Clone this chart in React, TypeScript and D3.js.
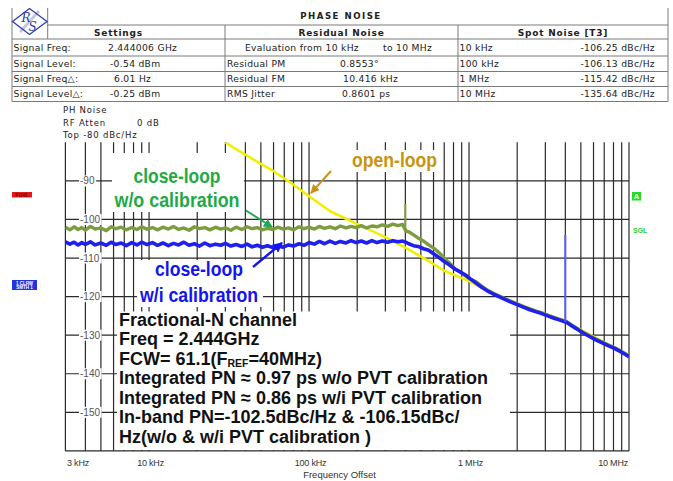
import React from 'react';
import * as d3 from 'd3';

// ---- trace data (offset frequency in Hz, phase noise in dBc/Hz) ----
const freqs = [
  3000, 3200, 3400, 3600, 3800, 4000, 4300, 4600, 5000, 5400, 5800, 6200, 6700, 7200, 7800, 8400, 9000, 9700,
  10500, 11300, 12200, 13200, 14200, 15300, 16500, 17800, 19200, 20700, 22300, 24000, 26000, 28000,
  30000, 32500, 35000, 38000, 41000, 44000, 47500, 51000, 55000, 59500, 64000, 69000, 74500, 80000, 86500, 93000,
  100000, 108000, 116000, 125000, 135000, 146000, 157000, 170000, 183000, 197000, 212000, 229000, 247000, 266000, 287000, 310000, 334000, 360000, 385000,
  396000, 404000, 420000, 450000, 480000, 520000, 560000, 600000, 650000, 700000, 760000, 820000, 880000, 950000, 1020000,
  1100000, 1200000, 1300000, 1400000, 1500000, 1650000, 1800000, 2000000, 2200000, 2400000, 2600000, 2850000, 3100000, 3400000, 3700000, 3960000,
  4040000, 4400000, 4800000, 5200000, 5700000, 6200000, 6800000, 7400000, 8100000, 8800000, 9500000, 10000000,
];

// close-loop w/o calibration (olive trace)
const greenVals = [
  -102.0, -102.7, -101.9, -102.6, -102.1, -102.8, -101.8, -102.5, -102.2, -102.9, -101.9, -102.4, -102.0, -102.7, -102.1, -102.6, -101.9, -102.5,
  -102.1, -102.7, -102.0, -102.5, -101.8, -102.6, -102.2, -102.8, -101.9, -102.4, -102.1, -102.7, -102.0, -102.5,
  -102.2, -102.8, -102.0, -102.6, -101.9, -102.4, -102.1, -102.7, -102.3, -102.6, -102.0, -102.5, -102.2, -102.7, -101.9, -102.4,
  -102.0, -102.5, -101.8, -102.3, -101.9, -102.4, -101.7, -102.2, -101.8, -102.1, -101.6, -102.2, -101.7, -101.9, -101.4, -101.8, -101.2, -101.6, -101.3,
  -102.4, -103.0, -103.2, -104.0, -104.8, -105.6, -106.6, -107.4, -108.6, -110.0, -111.4, -112.8, -113.6, -114.6, -115.5,
  -116.1, -117.3, -118.3, -119.0, -119.6, -120.4, -121.1, -121.9, -122.6, -123.2, -123.7, -124.2, -124.8, -125.4, -125.9, -126.3,
  -126.4, -127.4, -128.4, -129.3, -130.2, -131.0, -131.8, -132.5, -133.2, -134.0, -134.8, -135.4,
];

// close-loop w/i calibration (blue trace)
const blueVals = [
  -105.8, -106.4, -105.9, -106.6, -106.0, -106.5, -105.8, -106.6, -106.1, -106.7, -105.9, -106.5, -106.1, -106.8, -106.0, -106.6, -105.9, -106.5,
  -106.0, -106.7, -106.1, -106.8, -106.2, -106.6, -105.9, -106.7, -106.3, -106.9, -106.1, -106.8, -106.4, -106.7,
  -106.2, -106.9, -106.5, -107.0, -106.4, -107.1, -106.7, -107.2, -106.8, -107.3, -106.9, -107.2, -106.6, -106.9, -106.3, -106.7,
  -106.0, -106.4, -105.7, -106.3, -105.6, -106.2, -105.7, -106.1, -105.5, -106.0, -105.6, -106.1, -105.5, -106.0, -105.6, -105.9, -105.5, -105.8, -105.6,
  -105.8, -105.9, -106.3, -106.8, -107.0, -107.6, -108.0, -108.9, -109.9, -110.9, -111.9, -112.9, -113.6, -114.4, -115.4,
  -116.4, -117.6, -118.5, -119.2, -119.8, -120.6, -121.3, -122.1, -122.8, -123.4, -123.9, -124.4, -125.0, -125.6, -126.1, -126.5,
  -126.6, -127.6, -128.6, -129.5, -130.4, -131.2, -132.0, -132.7, -133.4, -134.2, -135.0, -135.6,
];

// open-loop (yellow trace)
const yellowFreqs = [30000, 35000, 40000, 50000, 60000, 80000, 100000, 135000, 200000, 300000, 400000, 550000, 700000, 1000000, 1500000, 2000000, 3000000, 4000000, 6000000, 8000000, 10000000];
const yellowVals = [-80, -81.8, -83.2, -85.6, -87.5, -91, -94, -97.8, -101.2, -104.6, -107.3, -110.6, -113.3, -116, -119.8, -121.9, -124.6, -126.5, -130.4, -133.2, -135.3];

// spurs
const spikeFreqs = [400000, 4000000];
const spikeTops = [-96, -104];
const spikeBases = [-103, -126.5];

// axes
const yTicks = [-90, -100, -110, -120, -130, -140, -150];
const xTickValues = [3000, 10000, 100000, 1000000, 10000000];
const xTickLabels = ['3 kHz', '10 kHz', '100 kHz', '1 MHz', '10 MHz'];

// header table
const settingsLabels = ['Signal Freq:', 'Signal Level:', 'Signal Freq\u25B3:', 'Signal Level\u25B3:'];
const settingsValues = ['2.444006 GHz', '-0.54 dBm', '6.01 Hz', '-0.25 dBm'];
const residualLabels = ['', 'Residual PM', 'Residual FM', 'RMS Jitter'];
const residualValues = ['', '0.8553\u00B0', '10.416 kHz', '0.8601 ps'];
const spotFreqs = ['10 kHz', '100 kHz', '1 MHz', '10 MHz'];
const spotValues = ['-106.25 dBc/Hz', '-106.13 dBc/Hz', '-115.42 dBc/Hz', '-135.64 dBc/Hz'];

const infoLines = [
  'Fractional-N channel',
  'Freq = 2.444GHz',
  'FCW',
  'Integrated PN \u2248 0.97 ps w/o PVT calibration',
  'Integrated PN \u2248 0.86 ps w/i PVT calibration',
  'In-band PN=-102.5dBc/Hz & -106.15dBc/',
  'Hz(w/o & w/i PVT calibration )',
];

const GREEN = '#7d9b3f';
const BLUE = '#2020ee';
const YELLOW = '#f2ee00';
const GRID = '#2a2a2a';
const TBL = '#7a7a7a';

export default function App() {
  const plotL = 65.4, plotR = 629, plotT = 142.3, plotB = 450.9;
  const x = d3.scaleLog().domain([3000, 1e7]).range([plotL, plotR]);
  const y = d3.scaleLinear().domain([-160, -80]).range([plotB, plotT]);
  const gridX = x.ticks().filter((v) => v > 3000);
  const line = d3.line<[number, number]>().x((d) => x(d[0])).y((d) => y(d[1]));
  const green: [number, number][] = freqs.map((f, i) => [f, greenVals[i]]);
  const blue: [number, number][] = freqs.map((f, i) => [f, blueVals[i]]);
  const yellow: [number, number][] = yellowFreqs.map((f, i) => [f, yellowVals[i]]);

  const rows = [39, 56, 71.5, 86.5, 101.5];
  const tf = 'DejaVu Sans, Verdana, sans-serif';
  const af = 'Liberation Sans, Arial, sans-serif';
  const rowBase = (i: number) => (rows[i] + rows[i + 1]) / 2 + 3.3;
  const infoBase = [325.5, 345, 364.5, 384, 403.5, 423, 442.5];

  return (
    <svg width={673} height={481} style={{ position: 'absolute', left: 0, top: 0, background: '#fff' }}>
      <defs>
        <clipPath id="plotclip">
          <rect x={plotL} y={plotT} width={plotR - plotL} height={plotB - plotT} />
        </clipPath>
        <marker id="ah-g" viewBox="0 0 10 10" refX="9" refY="5" markerWidth="9" markerHeight="9" markerUnits="userSpaceOnUse" orient="auto">
          <path d="M0,0 L10,5 L0,10 z" fill="#1fa84f" />
        </marker>
        <marker id="ah-o" viewBox="0 0 10 10" refX="9" refY="5" markerWidth="9" markerHeight="9" markerUnits="userSpaceOnUse" orient="auto">
          <path d="M0,0 L10,5 L0,10 z" fill="#c8921a" />
        </marker>
        <marker id="ah-b" viewBox="0 0 10 10" refX="9" refY="5" markerWidth="10" markerHeight="10" markerUnits="userSpaceOnUse" orient="auto">
          <path d="M0,0 L10,5 L0,10 z" fill="#1414f0" />
        </marker>
      </defs>
      <rect x={0} y={0} width={673} height={481} fill="#fff" />

      {/* ---------- header table ---------- */}
      <g stroke={TBL} strokeWidth={1} fill="none">
        <line x1={12} y1={8} x2={12} y2={rows[4]} />
        <line x1={668} y1={8} x2={668} y2={rows[4]} />
        <line x1={47.7} y1={8} x2={47.7} y2={39} />
        <line x1={47.7} y1={25} x2={668} y2={25} />
        {rows.map((r) => <line key={r} x1={12} y1={r} x2={668} y2={r} />)}
        <line x1={225} y1={25} x2={225} y2={rows[4]} />
        <line x1={458} y1={25} x2={458} y2={rows[4]} />
      </g>
      {/* logo */}
      <g>
        <line x1={39} y1={11} x2={20} y2={32} stroke="#c4c8dc" strokeWidth={3} />
        <polygon points="12.5,21.5 29.5,8.5 47,21.5 29.5,34.5" fill="none" stroke="#2b3fa8" strokeWidth={1.3} />
        <text x={21.5} y={22} fontFamily="DejaVu Serif, serif" fontStyle="italic" fontSize={12} fill="#2b3fa8">R</text>
        <text x={28.5} y={31} fontFamily="DejaVu Serif, serif" fontStyle="italic" fontSize={12} fill="#2b3fa8">S</text>
      </g>
      <text x={341} y={18.5} textAnchor="middle" fontFamily={tf} fontWeight="bold" fontSize={8.6} letterSpacing={1.5} fill="#222">PHASE NOISE</text>
      <g fontFamily={tf} fontWeight="bold" fontSize={9} letterSpacing={0.8} fill="#222" textAnchor="middle">
        <text x={118.5} y={35.5}>Settings</text>
        <text x={341.5} y={35.5}>Residual Noise</text>
        <text x={563} y={35.5}>Spot Noise [T3]</text>
      </g>
      <g fontFamily={tf} fontSize={9.2} letterSpacing={0.3} fill="#222">
        {settingsLabels.map((s, i) => <text key={'sl' + i} x={13.5} y={rowBase(i)}>{s}</text>)}
        {settingsValues.map((s, i) => <text key={'sv' + i} x={[108, 110, 114, 110][i]} y={rowBase(i)}>{s}</text>)}
        <text x={245} y={rowBase(0)}>Evaluation from 10 kHz</text>
        <text x={383} y={rowBase(0)}>to 10 MHz</text>
        {residualLabels.map((s, i) => (s ? <text key={'rl' + i} x={227} y={rowBase(i)}>{s}</text> : null))}
        {residualValues.map((s, i) => (s ? <text key={'rv' + i} x={[0, 340, 343, 342][i]} y={rowBase(i)}>{s}</text> : null))}
        {spotFreqs.map((s, i) => <text key={'sf' + i} x={459.5} y={rowBase(i)}>{s}</text>)}
        {spotValues.map((s, i) => <text key={'sp' + i} x={655} y={rowBase(i)} textAnchor="end">{s}</text>)}
      </g>

      {/* ---------- instrument info ---------- */}
      <g fontFamily={tf} fontSize={8.5} letterSpacing={0.8} fill="#222">
        <text x={63} y={113.2}>PH Noise</text>
        <text x={63} y={125.5}>RF Atten</text>
        <text x={137} y={125.5}>0 dB</text>
        <text x={63} y={137.5}>Top -80 dBc/Hz</text>
      </g>

      {/* side markers */}
      <rect x={12} y={192} width={20} height={5.5} fill="#e01818" />
      <text x={22} y={196.5} textAnchor="middle" fontFamily={af} fontWeight="bold" fontSize={5} fill="#700">FOVL</text>
      <rect x={12} y={280} width={25} height={10} fill="#2233e0" />
      <text x={24.5} y={284.5} textAnchor="middle" fontFamily={af} fontWeight="bold" fontSize={4.5} fill="#fff">1 CLRW</text>
      <text x={24.5} y={289} textAnchor="middle" fontFamily={af} fontWeight="bold" fontSize={4.5} fill="#fff">SMTH 1</text>
      <rect x={632} y={192} width={9} height={8.5} fill="#22dd22" />
      <text x={636.5} y={199} textAnchor="middle" fontFamily={af} fontWeight="bold" fontSize={7.5} fill="#fff">A</text>
      <text x={633} y={233} fontFamily={af} fontWeight="bold" fontSize={7} fill="#33cc33">SGL</text>

      {/* ---------- grid ---------- */}
      <g stroke={GRID} strokeWidth={1.2}>
        {gridX.map((v) => <line key={'gx' + v} x1={x(v)} y1={plotT} x2={x(v)} y2={plotB} />)}
        {yTicks.map((t) => <line key={'gy' + t} x1={plotL} y1={y(t)} x2={plotR} y2={y(t)} />)}
        <line x1={plotL} y1={plotT} x2={plotL} y2={plotB} />
        <line x1={plotL} y1={plotB} x2={plotR} y2={plotB} />
      </g>
      {/* y tick labels with knockout */}
      {yTicks.map((t) => {
        const lbl = String(t);
        const w = lbl.length * 5.4 + 1;
        return (
          <g key={'yl' + t}>
            <rect x={79} y={y(t) - 5.5} width={w} height={11} fill="#fff" />
            <text x={80} y={y(t) + 3.6} fontFamily={af} fontSize={10} fill="#555">{lbl}</text>
          </g>
        );
      })}
      {/* x tick labels */}
      <g fontFamily={af} fontSize={9} fill="#333">
        {xTickValues.map((v, i) => {
          const first = i === 0, last = i === xTickValues.length - 1;
          return (
            <text key={'xl' + v} x={first ? 67 : last ? 628 : x(v) + 1.5} y={465.5}
              textAnchor={first ? 'start' : last ? 'end' : 'middle'} letterSpacing={-0.2}>{xTickLabels[i]}</text>
          );
        })}
        <text x={339.5} y={478} textAnchor="middle" fontSize={9.5}>Frequency Offset</text>
      </g>

      {/* ---------- annotation backgrounds ---------- */}
      <g fill="#fff">
        <rect x={112} y={153} width={132} height={59} />
        <rect x={349} y={150} width={92} height={22} />
        <rect x={137} y={260} width={126} height={47} />
        <rect x={117} y={311.5} width={393} height={138.5} />
      </g>

      {/* ---------- traces ---------- */}
      <g clipPath="url(#plotclip)" fill="none" strokeLinejoin="round">
        <path d={line(yellow) || ''} stroke={YELLOW} strokeWidth={2.6} />
        <path d={line(green) || ''} stroke={GREEN} strokeWidth={3.4} />
        <line x1={x(spikeFreqs[0])} y1={y(spikeTops[0])} x2={x(spikeFreqs[0])} y2={y(spikeBases[0])} stroke={GREEN} strokeWidth={2} />
        <path d={line(blue) || ''} stroke={BLUE} strokeWidth={3.6} />
        <line x1={x(spikeFreqs[1])} y1={y(spikeTops[1])} x2={x(spikeFreqs[1])} y2={y(spikeBases[1])} stroke="#5a5aff" strokeWidth={2} />
      </g>

      {/* ---------- annotations ---------- */}
      <g fontFamily={af} fontWeight="bold" fontSize={20}>
        <text x={177} y={183} textAnchor="middle" fill="#1eaa46" textLength={87} lengthAdjust="spacingAndGlyphs">close-loop</text>
        <text x={177} y={206.7} textAnchor="middle" fill="#1eaa46" textLength={125} lengthAdjust="spacingAndGlyphs">w/o calibration</text>
        <text x={352} y={166.5} fill="#c8940e" textLength={85} lengthAdjust="spacingAndGlyphs">open-loop</text>
        <text x={199} y={276} textAnchor="middle" fill="#1414f0" textLength={88} lengthAdjust="spacingAndGlyphs">close-loop</text>
        <text x={199} y={301.7} textAnchor="middle" fill="#1414f0" textLength={118} lengthAdjust="spacingAndGlyphs">w/i calibration</text>
      </g>
      <line x1={246} y1={210.5} x2={272} y2={227} stroke="#1fa84f" strokeWidth={2} markerEnd="url(#ah-g)" />
      <line x1={331} y1={171} x2={311} y2={193} stroke="#c8921a" strokeWidth={2} markerEnd="url(#ah-o)" />
      <line x1={253} y1={267} x2={282} y2={243} stroke="#1414f0" strokeWidth={2.4} markerEnd="url(#ah-b)" />

      <g fontFamily={af} fontWeight="bold" fontSize={18} fill="#111">
        {infoLines.map((s, i) =>
          s === 'FCW' ? (
            <text key={'il' + i} x={119} y={infoBase[i]}>
              FCW= 61.1(F<tspan fontSize={10.5} dy={2.5}>REF</tspan><tspan dy={-2.5}>=40MHz)</tspan>
            </text>
          ) : (
            <text key={'il' + i} x={119} y={infoBase[i]}>{s}</text>
          )
        )}
      </g>
    </svg>
  );
}
